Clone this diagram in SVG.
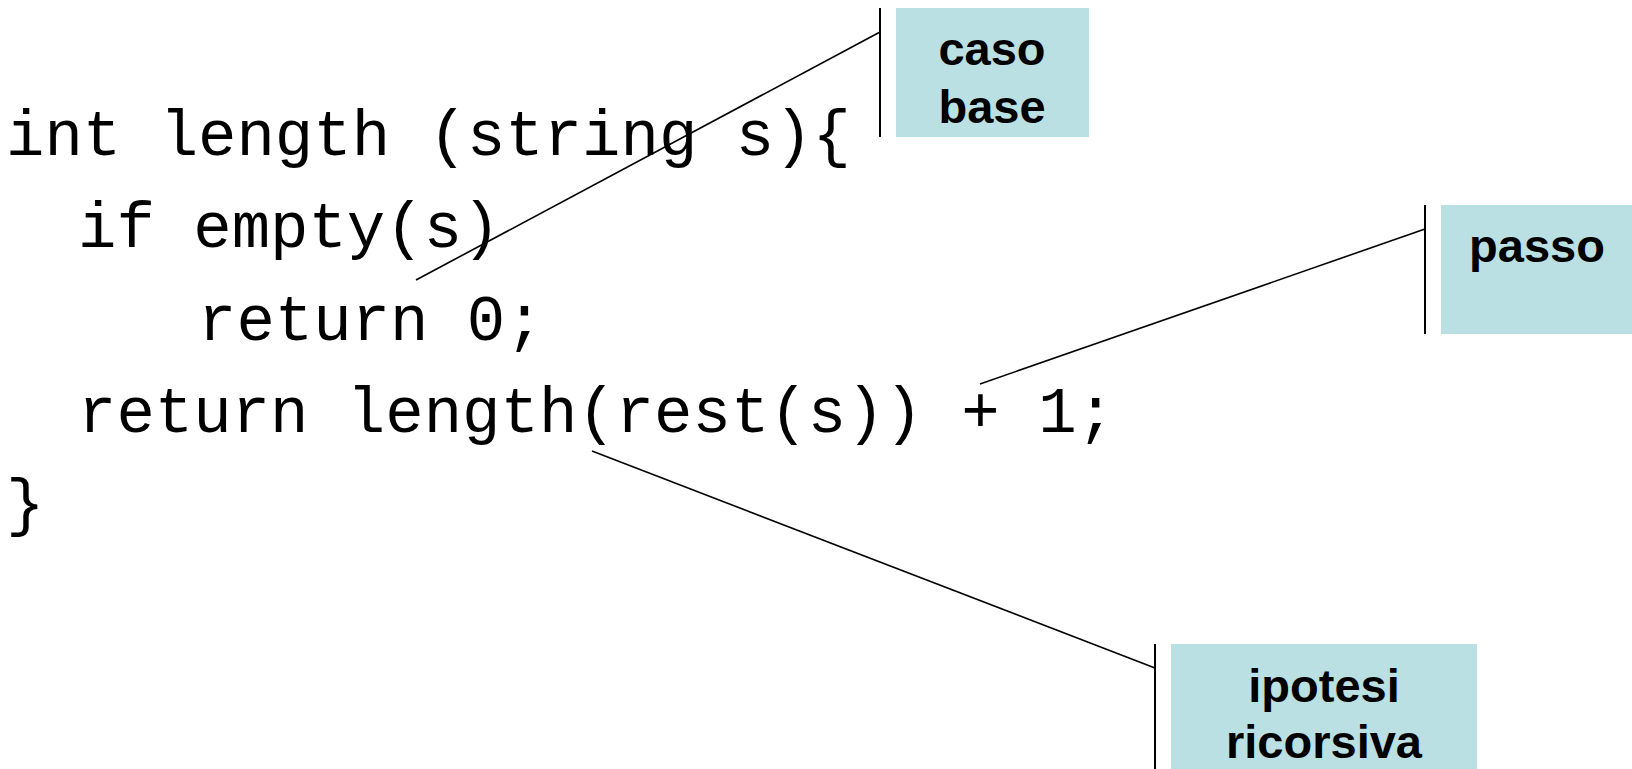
<svg xmlns="http://www.w3.org/2000/svg" width="1632" height="769" viewBox="0 0 1632 769">
<style>
.code{font-family:"Liberation Mono","Courier New",monospace;font-size:64px;fill:#000;white-space:pre}
.box{fill:#BBE0E3}
.lbl{font-family:"Liberation Sans",Arial,sans-serif;font-weight:bold;font-size:47px;fill:#000;text-anchor:middle}
.bar{stroke:#000;stroke-width:2;fill:none}
.conn{stroke:#000;stroke-width:1.6;fill:none}
</style>
<rect width="1632" height="769" fill="#fff"/>
<g id="code">
<text class="code" x="6" y="155">int length (string s){</text>
<text class="code" x="78" y="247">if empty(s)</text>
<text class="code" x="198" y="340">return 0;</text>
<text class="code" x="78" y="432">return length(rest(s)) + 1;</text>
<text class="code" x="6" y="524">}</text>
</g>
<g id="caso-base">
<rect class="box" x="896" y="8" width="193" height="129"/>
<line class="bar" x1="880" y1="8" x2="880" y2="137"/>
<text class="lbl" x="992" y="65">caso</text>
<text class="lbl" x="992" y="123">base</text>
</g>
<g id="passo">
<rect class="box" x="1441" y="205" width="191" height="129"/>
<line class="bar" x1="1425" y1="205" x2="1425" y2="334"/>
<text class="lbl" x="1537" y="262">passo</text>
</g>
<g id="ipotesi-ricorsiva">
<rect class="box" x="1171" y="644" width="306" height="125"/>
<line class="bar" x1="1155" y1="644" x2="1155" y2="769"/>
<text class="lbl" x="1324" y="702">ipotesi</text>
<text class="lbl" x="1324" y="758">ricorsiva</text>
</g>
<g id="connectors">
<line class="conn" x1="416" y1="280" x2="880" y2="32"/>
<line class="conn" x1="980" y1="384" x2="1425" y2="229"/>
<line class="conn" x1="592" y1="451" x2="1155" y2="668"/>
</g>
</svg>
